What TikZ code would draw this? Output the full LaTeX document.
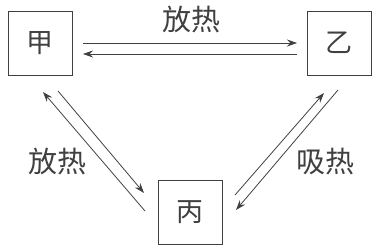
\documentclass[tikz,border=0pt]{standalone}
\usepackage{fontspec}
\newfontfamily\cjk{Noto Sans CJK SC}
\usetikzlibrary{arrows.meta}
\begin{document}
\begin{tikzpicture}[x=1pt,y=-1pt,
  box/.style={draw=black!75,line width=0.9pt,minimum width=64pt,minimum height=64pt,inner sep=0pt,font=\cjk\fontsize{27}{27}\selectfont,text=black!75},
  lbl/.style={font=\cjk\fontsize{29}{29}\selectfont,text=black!75,inner sep=0pt},
  arr/.style={draw=black!75,line width=0.8pt,-{Stealth[length=10pt,width=7pt]}}]
\useasboundingbox (0,0) rectangle (381,247);
\node[box] (jia) at (40.5,43.5) {甲};
\node[box] (yi) at (339,43) {乙};
\node[box] (bing) at (190,212.5) {丙};
\node[lbl] (l1) at (191,20) {放热};
\node[lbl] (l2) at (57,162) {放热};
\node[lbl] (l3) at (325,162) {吸热};
\coordinate (a1) at (83,43);  \coordinate (a2) at (297,43);
\coordinate (b1) at (297,54); \coordinate (b2) at (83,54);
\coordinate (c1) at (145,211); \coordinate (c2) at (43,92);
\coordinate (d1) at (58,91);  \coordinate (d2) at (144,193);
\coordinate (e1) at (235,195); \coordinate (e2) at (324,93);
\coordinate (f1) at (338,90); \coordinate (f2) at (236,210);
\draw[arr] (a1) -- (a2);
\draw[arr] (b1) -- (b2);
\draw[arr] (c1) -- (c2);
\draw[arr] (d1) -- (d2);
\draw[arr] (e1) -- (e2);
\draw[arr] (f1) -- (f2);
\end{tikzpicture}
\end{document}
